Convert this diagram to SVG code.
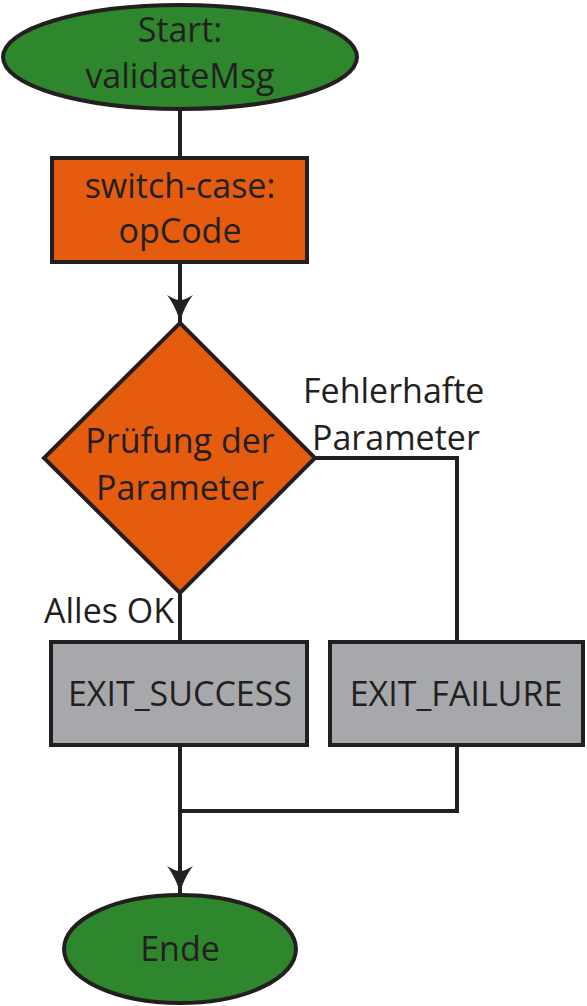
<svg xmlns="http://www.w3.org/2000/svg" width="587" height="1006" viewBox="0 0 587 1006">
<style>
.ln{fill:none;stroke:#231f20;stroke-width:4;stroke-linejoin:miter}
.nd{stroke:#231f20;stroke-width:4}
.green{fill:#2f872d}
.orange{fill:#e65c0f}
.gray{fill:#a6a8ab}
text{font-family:"Open Sans","Noto Sans",sans-serif;font-size:34px;fill:#231f20;text-anchor:middle}
.lbl{text-anchor:start}
</style>
<defs>
<marker id="arr" markerWidth="32" markerHeight="28" viewBox="0 0 32 28" refX="32" refY="14" markerUnits="userSpaceOnUse" orient="auto">
<path d="M32,14 C22,12 12,7 4,1 C7,6 9,10 9,14 C9,18 7,22 4,27 C12,21 22,16 32,14 Z" fill="#231f20"/>
</marker>
</defs>
<g id="connectors">
<line class="ln" x1="180" y1="110" x2="180" y2="158"/>
<line class="ln" x1="180" y1="263" x2="180" y2="323" marker-end="url(#arr)"/>
<polyline class="ln" points="315,458 457,458 457,641"/>
<line class="ln" x1="180" y1="593" x2="180" y2="641"/>
<polyline class="ln" points="457,745 457,811 180,811"/>
<line class="ln" x1="180" y1="745" x2="180" y2="894" marker-end="url(#arr)"/>
<text class="lbl" x="303" y="403">Fehlerhafte</text>
<text class="lbl" x="312" y="450">Parameter</text>
<text class="lbl" x="44" y="623">Alles OK</text>
</g>
<g id="start">
<ellipse class="nd green" cx="180" cy="57" rx="177" ry="52"/>
<text x="180" y="42">Start:</text>
<text x="180" y="88">validateMsg</text>
</g>
<g id="switch">
<rect class="nd orange" x="52" y="158" width="255" height="104"/>
<text x="180" y="198">switch-case:</text>
<text x="180" y="243">opCode</text>
</g>
<g id="check">
<polygon class="nd orange" points="180,323 315,458 180,593 44,458"/>
<text x="180" y="453">Prüfung der</text>
<text x="180" y="500">Parameter</text>
</g>
<g id="success">
<rect class="nd gray" x="51" y="642" width="256" height="103"/>
<text x="180" y="706">EXIT_SUCCESS</text>
</g>
<g id="failure">
<rect class="nd gray" x="330" y="642" width="253" height="103"/>
<text x="456" y="706">EXIT_FAILURE</text>
</g>
<g id="ende">
<ellipse class="nd green" cx="180" cy="949" rx="116" ry="54"/>
<text x="180" y="961">Ende</text>
</g>
</svg>
